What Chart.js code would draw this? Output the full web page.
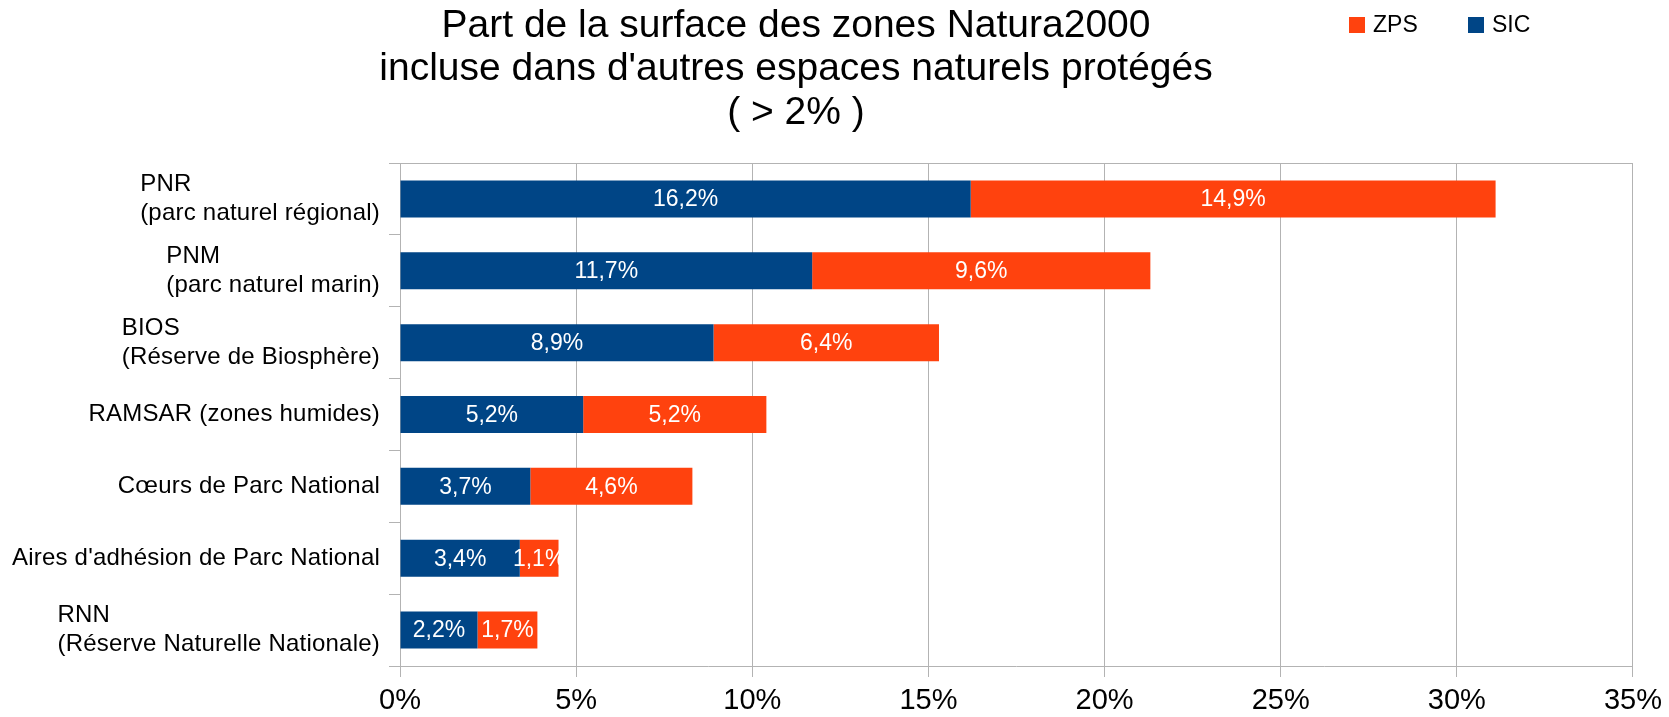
<!DOCTYPE html>
<html>
<head>
<meta charset="utf-8">
<script src="https://cdn.jsdelivr.net/npm/chart.js@4/dist/chart.umd.min.js"></script>
<style>
  html, body { margin: 0; padding: 0; background: #fff; }
  #wrap { width: 1669px; height: 717px; position: relative; }
</style>
</head>
<body>
<div id="wrap"><canvas id="natura"></canvas></div>
<script>
// données
const categories = [
  ["PNR", "(parc naturel régional)"],
  ["PNM", "(parc naturel marin)"],
  ["BIOS", "(Réserve de Biosphère)"],
  ["RAMSAR (zones humides)"],
  ["Cœurs de Parc National"],
  ["Aires d'adhésion de Parc National"],
  ["RNN", "(Réserve Naturelle Nationale)"]
];
const sicValues = [16.2, 11.7, 8.9, 5.2, 3.7, 3.4, 2.2];
const zpsValues = [14.9, 9.6, 6.4, 5.2, 4.6, 1.1, 1.7];
const titleLines = [
  "Part de la surface des zones Natura2000",
  "incluse dans d'autres espaces naturels protégés",
  "( > 2% )"
];
const xMax = 35;
const xStep = 5;

const FONT = "'Liberation Sans', Arial, sans-serif";
const GRID = "#b3b3b3";
const SIC_COLOR = "#004586";
const ZPS_COLOR = "#ff420e";

// === titre + légende ===
const titleLegendPlugin = {
  id: "titleLegend",
  afterDraw(chart) {
    const c = chart.ctx;
    c.save();
    c.fillStyle = "#000";
    c.font = "39px " + FONT;
    c.textAlign = "center";
    c.textBaseline = "middle";
    titleLines.forEach((t, i) => c.fillText(t, 796, 26 + i * 43.5));

    // légende (ordre inverse : ZPS puis SIC)
    c.font = "23px " + FONT;
    c.textAlign = "left";
    const items = chart.data.datasets.slice().reverse();
    const xs = [1349, 1468];
    items.forEach((ds, i) => {
      c.fillStyle = ds.backgroundColor;
      c.fillRect(xs[i], 17, 16, 16);
      c.fillStyle = "#000";
      c.fillText(ds.label, xs[i] + 24, 26);
    });
    c.restore();
  }
};

// === étiquettes de l'axe vertical (blocs alignés à droite) ===
const yLabelsPlugin = {
  id: "yLabels",
  afterDraw(chart) {
    const c = chart.ctx;
    const scale = chart.scales.y;
    c.save();
    c.fillStyle = "#000";
    c.font = "24px " + FONT;
    c.letterSpacing = "0.22px";
    c.textAlign = "left";
    c.textBaseline = "middle";
    categories.forEach((lines, i) => {
      const center = scale.getPixelForTick(i);
      const w = Math.max(...lines.map(l => c.measureText(l).width));
      const x = scale.right - 20 - w;
      lines.forEach((l, j) => {
        c.fillText(l, x, center + (j - (lines.length - 1) / 2) * 29);
      });
    });
    c.restore();
  }
};

// === valeurs dans les barres ===
const barValuesPlugin = {
  id: "barValues",
  afterDatasetsDraw(chart) {
    const c = chart.ctx;
    c.save();
    c.fillStyle = "#fff";
    c.font = "23px " + FONT;
    c.textAlign = "center";
    c.textBaseline = "middle";
    chart.data.datasets.forEach((ds, di) => {
      const meta = chart.getDatasetMeta(di);
      meta.data.forEach((bar, i) => {
        const txt = ds.data[i].toFixed(1).replace(".", ",") + "%";
        c.fillText(txt, (bar.x + bar.base) / 2, bar.y + 1);
      });
    });
    c.restore();
  }
};

new Chart(document.getElementById("natura"), {
  type: "bar",
  data: {
    labels: categories.map(l => l.join(" ")),
    datasets: [
      { label: "SIC", data: sicValues, backgroundColor: SIC_COLOR },
      { label: "ZPS", data: zpsValues, backgroundColor: ZPS_COLOR }
    ]
  },
  options: {
    indexAxis: "y",
    responsive: true,
    maintainAspectRatio: false,
    animation: false,
    layout: { padding: { top: 163, right: 33, left: 0, bottom: 0 } },
    datasets: { bar: { barPercentage: 0.515, categoryPercentage: 1 } },
    plugins: {
      legend: { display: false },
      title: { display: false },
      tooltip: { enabled: false }
    },
    scales: {
      x: {
        stacked: true,
        min: 0,
        max: xMax,
        ticks: {
          stepSize: xStep,
          color: "#000",
          padding: 7,
          font: { family: FONT, size: 29 },
          callback: v => v + "%"
        },
        grid: { color: GRID, tickLength: 11, tickColor: GRID },
        border: { color: GRID },
        afterFit: s => { s.height = 51; }
      },
      y: {
        stacked: true,
        ticks: { display: false },
        grid: {
          offset: true,
          color: ctx => ctx.index === 0 ? GRID : "rgba(0,0,0,0)",
          tickColor: GRID,
          tickLength: 11
        },
        border: { color: GRID },
        afterFit: s => { s.width = 400; }
      }
    }
  },
  plugins: [titleLegendPlugin, yLabelsPlugin, barValuesPlugin]
});
</script>
</body>
</html>
